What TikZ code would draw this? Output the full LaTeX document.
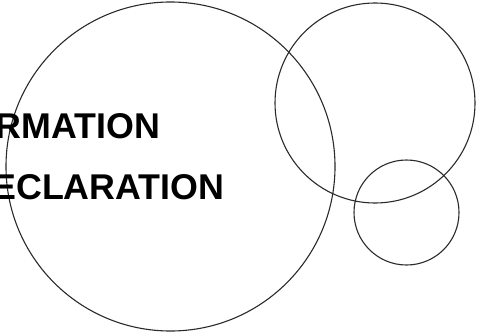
\documentclass[tikz,border=0pt]{standalone}
\usepackage{fontspec}
\setmainfont{Liberation Sans}
\usepackage{xcolor}
\usepackage{tikz}
\usetikzlibrary{positioning}
\definecolor{ringgray}{HTML}{2A2A2A}
\definecolor{wordblack}{HTML}{000000}
\tikzset{
  ring/.style={circle, draw=ringgray, line width=1.1pt, inner sep=0pt, outer sep=0pt},
  bigword/.style={font=\fontsize{35.8}{42}\selectfont\bfseries, text=wordblack, inner sep=0pt, anchor=base east}
}
\begin{document}
\begin{tikzpicture}[x=1pt,y=-1pt]
  \clip (0,0) rectangle (478,334);
  \node[ring, minimum size=329pt] (bigring) at (170.5,166.5) {};
  \node[ring, minimum size=200pt] (topring) at (375,103) {};
  \node[ring, minimum size=105pt] (smallring) at (406.5,212.5) {};
  \node[bigword] (upperword) at (160.5,138) {RMATION};
  \node[bigword] (lowerword) at (224.5,199.5) {ECLARATION};
\end{tikzpicture}
\end{document}
